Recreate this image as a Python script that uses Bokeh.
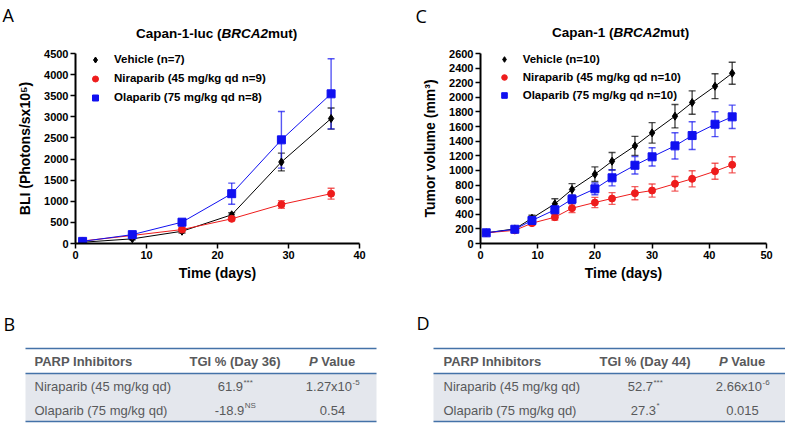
from bokeh.plotting import figure
from bokeh.models import Legend, LegendItem, Range1d, ColumnDataSource, SingleIntervalTicker
from bokeh.layouts import column, row
from bokeh.embed import file_html
from bokeh.resources import INLINE
from bokeh.core.properties import value

FONT = "Liberation Sans"
LETTER_FONT = "Open Sans"

# ---------------- data: panel A (BLI, Capan-1-luc) ----------------
days_a = [1, 8, 15, 22, 29, 36]
veh_a = [30, 110, 290, 680, 1930, 2960]
veh_a_err = [15, 20, 40, 50, 210, 250]
nir_a = [60, 190, 330, 585, 925, 1180]
nir_a_err = [15, 25, 45, 40, 90, 130]
ola_a = [50, 210, 505, 1180, 2455, 3545]
ola_a_err = [15, 30, 70, 250, 670, 830]
labels_a = ["Vehicle (n=7)", "Niraparib (45 mg/kg qd n=9)", "Olaparib (75 mg/kg qd n=8)"]

# ---------------- data: panel C (tumor volume, Capan-1) ----------------
days_c = [1, 6, 9, 13, 16, 20, 23, 27, 30, 34, 37, 41, 44]
veh_c = [146, 200, 346, 543, 739, 948, 1126, 1336, 1514, 1742, 1929, 2152, 2330]
veh_c_err = [10, 20, 40, 70, 80, 100, 120, 130, 140, 160, 160, 170, 150]
nir_c = [146, 180, 278, 360, 483, 561, 616, 688, 725, 817, 885, 989, 1077]
nir_c_err = [10, 15, 30, 40, 60, 70, 80, 90, 90, 100, 110, 110, 110]
ola_c = [146, 195, 315, 461, 606, 748, 899, 1071, 1186, 1336, 1477, 1632, 1733]
ola_c_err = [10, 15, 30, 50, 60, 80, 110, 120, 125, 180, 190, 170, 160]
labels_c = ["Vehicle (n=10)", "Niraparib (45 mg/kg qd n=10)", "Olaparib (75 mg/kg qd n=10)"]

# ---------------- data: tables B and D ----------------
headers_b = ["PARP Inhibitors", "TGI % (Day 36)", "P", "Value"]
headers_d = ["PARP Inhibitors", "TGI % (Day 44)", "P", "Value"]
drugs = ["Niraparib (45 mg/kg qd)", "Olaparib (75 mg/kg qd)"]
tgi_b = ["61.9", "-18.9"]
tgi_b_sig = ["***", "NS"]
p_b = ["1.27x10", "0.54"]
p_b_exp = ["-5", ""]
tgi_d = ["52.7", "27.3"]
tgi_d_sig = ["***", "*"]
p_d = ["2.66x10", "0.015"]
p_d_exp = ["-6", ""]

COLORS = ["#000000", "#ee1c1c", "#1010f0"]
MARKERS = ["diamond", "circle", "square"]
MSIZES = [8, 7, 8]

# approximate Arial (Liberation Sans) advance widths, per em
REG_W = {c: 0.556 for c in "0123456789"}
REG_W.update({".": 0.278, "-": 0.333, "x": 0.5, "*": 0.389, "N": 0.722, "S": 0.667, " ": 0.278})
BOLD_W = {c: 0.556 for c in "0123456789"}
BOLD_W.update({"C": 0.722, "a": 0.556, "p": 0.611, "n": 0.611, "-": 0.333, "l": 0.278,
               "u": 0.611, "c": 0.556, " ": 0.278, "(": 0.333, ")": 0.333, "B": 0.722,
               "R": 0.722, "A": 0.722, "m": 0.889, "t": 0.333, "P": 0.667, "V": 0.667,
               "e": 0.556})


def tw(s, size, table):
    return sum(table.get(ch, 0.556) for ch in s) * size


W = 785
HEAD_H = 45          # title strip
FIG_H = 255          # chart figures (page y 45..300)
TAB_H = 123          # tables (page y 300..423)
FRAME_TOP = 53
FRAME_BOTTOM = 243

# ---------------- title strip ----------------
head = figure(width=W, height=HEAD_H, x_range=Range1d(0, W), y_range=Range1d(HEAD_H, 0),
              output_backend="svg", toolbar_location=None, x_axis_location=None,
              y_axis_location=None, min_border_left=0, min_border_right=0,
              min_border_top=0, min_border_bottom=0)
head.outline_line_color = None
head.grid.visible = False

title_a = [("Capan-1-luc (", "bold"), ("BRCA2", "bold italic"), ("mut)", "bold")]
title_c = [("Capan-1 (", "bold"), ("BRCA2", "bold italic"), ("mut)", "bold")]
for parts, center, ty in ((title_a, 216, 33), (title_c, 620, 32)):
    size = 13.5
    total = sum(tw(t, size, BOLD_W) for t, _ in parts)
    x = center - total / 2
    for t, style in parts:
        head.text(x=[x], y=[ty], text=[t], text_font=value(FONT), text_font_style=style,
                  text_font_size="13.5px", text_color="black", text_baseline="middle",
                  text_align="left")
        x += tw(t, size, BOLD_W)
head.text(x=[2, 415], y=[2, 3], text=["A", "C"], text_font=value(LETTER_FONT),
          text_font_size="18px", text_color="black", text_baseline="top", text_align="left")


def make_chart(page_x0, width, frame_left, frame_right, xmax, xstep, ymax, ystep,
               days, series, labels, ylabel, legend_x, legend_top, legend_row, legend_gap):
    p = figure(width=width, height=FIG_H, x_range=Range1d(0, xmax), y_range=Range1d(0, ymax),
               output_backend="svg", toolbar_location=None,
               min_border_left=frame_left - page_x0,
               min_border_right=page_x0 + width - frame_right,
               min_border_top=FRAME_TOP - HEAD_H,
               min_border_bottom=HEAD_H + FIG_H - FRAME_BOTTOM)
    p.outline_line_color = None
    p.grid.visible = False
    p.background_fill_color = "white"
    p.border_fill_color = "white"

    p.xaxis.ticker = SingleIntervalTicker(interval=xstep, num_minor_ticks=0)
    p.yaxis.ticker = SingleIntervalTicker(interval=ystep, num_minor_ticks=0)
    for ax in (p.xaxis[0], p.yaxis[0]):
        ax.axis_line_width = 2
        ax.axis_line_color = "black"
        ax.major_tick_line_width = 1.5
        ax.major_tick_out = 5
        ax.major_tick_in = 0
        ax.minor_tick_line_color = None
        ax.major_label_text_font = FONT
        ax.major_label_text_font_style = "bold"
        ax.major_label_text_font_size = "11px"
        ax.major_label_text_color = "black"
        ax.major_label_standoff = 2
        ax.axis_label_text_font = FONT
        ax.axis_label_text_font_style = "bold"
        ax.axis_label_text_font_size = "14px"
        ax.axis_label_text_color = "black"
    p.xaxis.axis_label = "Time (days)"
    p.xaxis.axis_label_standoff = 3
    p.yaxis.axis_label = ylabel
    p.yaxis.axis_label_standoff = 8

    # error bars and connecting lines first
    for (ys, errs), color in zip(series, COLORS):
        src = ColumnDataSource(dict(x=days, y=ys,
                                    lo=[a - b for a, b in zip(ys, errs)],
                                    hi=[a + b for a, b in zip(ys, errs)]))
        p.segment(x0="x", y0="lo", x1="x", y1="hi", source=src, line_color=color,
                  line_width=1.4, line_alpha=0.7)
        p.scatter("x", "hi", source=src, marker="dash", size=7, line_color=color,
                  line_width=1.4, line_alpha=0.7)
        p.scatter("x", "lo", source=src, marker="dash", size=7, line_color=color,
                  line_width=1.4, line_alpha=0.7)
        p.line("x", "y", source=src, line_color=color, line_width=1)
    renderers = []
    for (ys, errs), color, mk, ms in zip(series, COLORS, MARKERS, MSIZES):
        r = p.scatter(days, ys, marker=mk, size=ms, fill_color=color, line_color=color)
        renderers.append(r)

    # legend (markers only)
    n = len(labels)
    leg_h = n * legend_row + (n - 1) * legend_gap
    legend = Legend(items=[LegendItem(label=l, renderers=[r]) for l, r in zip(labels, renderers)],
                    location=(legend_x - frame_left, FRAME_BOTTOM - (legend_top + leg_h)),
                    glyph_width=30, glyph_height=legend_row, label_height=legend_row,
                    label_width=10, spacing=legend_gap, padding=0, margin=0, label_standoff=4,
                    border_line_color=None, background_fill_alpha=0,
                    label_text_font=FONT, label_text_font_style="bold",
                    label_text_font_size="11.5px", label_text_color="black")
    p.add_layout(legend)
    return p


figA = make_chart(0, 390, 75, 359, 40, 10, 4500, 500, days_a,
                  [(veh_a, veh_a_err), (nir_a, nir_a_err), (ola_a, ola_a_err)], labels_a,
                  "BLI (Photons/sx10\u2075)", 80, 51.5, 15, 4)
figC = make_chart(390, 395, 480, 766, 50, 10, 2600, 200, days_c,
                  [(veh_c, veh_c_err), (nir_c, nir_c_err), (ola_c, ola_c_err)], labels_c,
                  "Tumor volume (mm\u00b3)", 488.7, 52.3, 14, 4)

# ---------------- tables ----------------
TAB_TOP = HEAD_H + FIG_H      # 300
RULE_COLOR = "#4472a8"
BAND_COLOR = "#e4e7ed"
TEXT_COLOR = "#58595b"

tab = figure(width=W, height=TAB_H, x_range=Range1d(0, W),
             y_range=Range1d(TAB_TOP + TAB_H, TAB_TOP), output_backend="svg",
             toolbar_location=None, x_axis_location=None, y_axis_location=None,
             min_border_left=0, min_border_right=0, min_border_top=0, min_border_bottom=0)
tab.outline_line_color = None
tab.grid.visible = False
tab.border_fill_color = "white"


def draw_table(p, letter, letter_x, letter_y, rule_x0, rule_x1, col_left, c2, c3,
               headers, tgi, tgi_sig, pv, pv_exp):
    y_rule1, y_head, y_rule2, y_bot = 348, 361, 373, 421
    rows_y = [386, 409.5]

    p.quad(left=[rule_x0], right=[rule_x1], top=[y_rule2], bottom=[y_bot],
           fill_color=BAND_COLOR, line_color=None)
    p.segment(x0=[rule_x0] * 3, x1=[rule_x1] * 3, y0=[y_rule1, y_rule2, y_bot],
              y1=[y_rule1, y_rule2, y_bot], line_color=RULE_COLOR, line_width=1.6)

    common = dict(text_font=value(FONT), text_baseline="middle")
    # header
    p.text(x=[col_left], y=[y_head], text=[headers[0]], text_font_style="bold",
           text_font_size="13px", text_color=TEXT_COLOR, text_align="left", **common)
    p.text(x=[c2], y=[y_head], text=[headers[1]], text_font_style="bold",
           text_font_size="13px", text_color=TEXT_COLOR, text_align="center", **common)
    wp = tw(headers[2], 13, BOLD_W)
    gap = tw(" ", 13, BOLD_W)
    wv = tw(headers[3], 13, BOLD_W)
    xs = c3 - (wp + gap + wv) / 2
    p.text(x=[xs], y=[y_head], text=[headers[2]], text_font_style="bold italic",
           text_font_size="13px", text_color=TEXT_COLOR, text_align="left", **common)
    p.text(x=[xs + wp + gap], y=[y_head], text=[headers[3]], text_font_style="bold",
           text_font_size="13px", text_color=TEXT_COLOR, text_align="left", **common)

    # body rows
    p.text(x=[col_left] * len(drugs), y=rows_y, text=drugs, text_font_size="13px",
           text_color=TEXT_COLOR, text_align="left", **common)
    for col_c, mains, sups in ((c2, tgi, tgi_sig), (c3, pv, pv_exp)):
        mx, sx = [], []
        for m, s in zip(mains, sups):
            wm = tw(m, 13, REG_W)
            ws = tw(s, 8, REG_W)
            start = col_c - (wm + ws) / 2
            mx.append(start)
            sx.append(start + wm + 0.5)
        p.text(x=mx, y=rows_y, text=mains, text_font_size="13px", text_color=TEXT_COLOR,
               text_align="left", **common)
        p.text(x=sx, y=[y - 4.5 for y in rows_y], text=sups, text_font_size="8px",
               text_color=TEXT_COLOR, text_align="left", **common)

    p.text(x=[letter_x], y=[letter_y], text=[letter], text_font=value(LETTER_FONT),
           text_font_size="18px", text_color="black", text_align="left", text_baseline="top")


draw_table(tab, "B", 3, 311, 25, 376, 34, 234.5, 332,
           headers_b, tgi_b, tgi_b_sig, p_b, p_b_exp)
draw_table(tab, "D", 416, 310, 433, 785, 443, 644.5, 742,
           headers_d, tgi_d, tgi_d_sig, p_d, p_d_exp)

layout = column(head, row(figA, figC), tab)
open("out.html", "w").write(file_html(layout, INLINE))
